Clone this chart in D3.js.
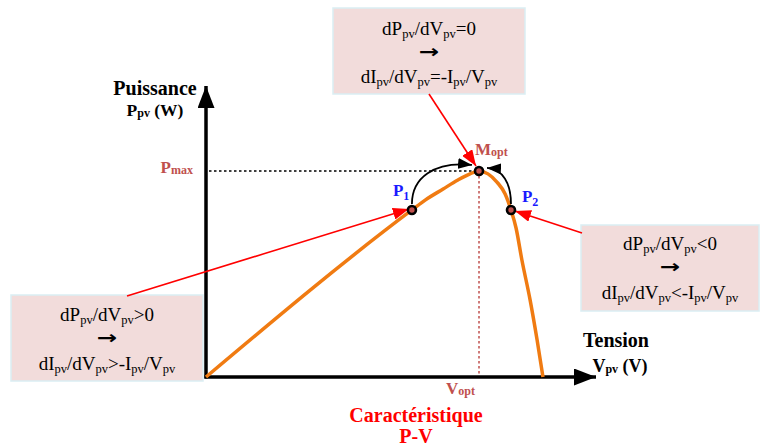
<!DOCTYPE html>
<html>
<head>
<meta charset="utf-8">
<script src="https://cdn.jsdelivr.net/npm/d3@7"></script>
<style>
  html, body { margin: 0; padding: 0; background: #ffffff; }
  svg { display: block; font-family: "Liberation Serif", "Times New Roman", serif; }
</style>
</head>
<body>
<svg id="chart" width="760" height="448"></svg>
<script>
// P-V characteristic of a PV module (arbitrary units)
const voltage = [0, 52.8, 56.2, 60.8, 64.6, 67.7, 70.0, 72.3, 74.6, 76.7, 78.2, 79.5, 81.0, 83.1, 84.9, 86.4];
const power   = [0, 57.4, 60.8, 64.6, 67.7, 69.8, 70.8, 69.8, 67.0, 62.9, 57.4, 51.2, 40.2, 26.5, 12.7, 0];

// Operating points on the curve
const pointNames = ["P1", "Mopt", "P2"];
const pointV = [52.8, 70.0, 78.2];
const pointP = [57.4, 70.8, 57.4];

// Condition boxes (text with _{...} marking subscripts)
const condTop   = ["dP_{pv}/dV_{pv}=0", "→", "dI_{pv}/dV_{pv}=-I_{pv}/V_{pv}"];
const condLeft  = ["dP_{pv}/dV_{pv}>0", "→", "dI_{pv}/dV_{pv}>-I_{pv}/V_{pv}"];
const condRight = ["dP_{pv}/dV_{pv}<0", "→", "dI_{pv}/dV_{pv}<-I_{pv}/V_{pv}"];

const svg = d3.select("#chart");

const x = d3.scaleLinear().domain([0, 100]).range([206, 596]);
const y = d3.scaleLinear().domain([0, 100]).range([377, 86]);

const ORANGE = "#f07b12";
const BROWN = "#c0504d";
const RED = "#ff0000";
const BLUE = "#1a1aff";

// Arrowhead markers
const defs = svg.append("defs");
function marker(id, color, len, wid) {
  defs.append("marker")
    .attr("id", id)
    .attr("markerUnits", "userSpaceOnUse")
    .attr("viewBox", `0 0 ${len} ${wid}`)
    .attr("refX", len).attr("refY", wid / 2)
    .attr("markerWidth", len).attr("markerHeight", wid)
    .attr("orient", "auto")
    .append("path")
    .attr("d", `M0,0 L${len},${wid / 2} L0,${wid} Z`)
    .attr("fill", color);
}
marker("axisHead", "#000", 22, 17);
marker("redHead", RED, 16, 12);
marker("blackHead", "#000", 14, 11);

// Parse "_{...}" subscripts into tspans
function richText(sel, str, size, subSize, shift) {
  const parts = [];
  const re = /_\{([^}]*)\}/g;
  let last = 0, m;
  while ((m = re.exec(str)) !== null) {
    if (m.index > last) parts.push([str.slice(last, m.index), false]);
    parts.push([m[1], true]);
    last = re.lastIndex;
  }
  if (last < str.length) parts.push([str.slice(last), false]);
  let down = false;
  parts.forEach(([t, sub]) => {
    const ts = sel.append("tspan").text(t).attr("font-size", sub ? subSize : size);
    if (sub && !down) { ts.attr("dy", shift); down = true; }
    else if (!sub && down) { ts.attr("dy", -shift); down = false; }
  });
}

// Condition boxes
function condBox(lines, x0, y0, w, h, baselines) {
  const g = svg.append("g");
  g.append("rect")
    .attr("x", x0).attr("y", y0).attr("width", w).attr("height", h)
    .attr("fill", "#f2dcdb").attr("stroke", "#daeef3").attr("stroke-width", 1.5);
  lines.forEach((ln, i) => {
    if (ln === "→") {
      // implication arrow, stretched horizontally
      g.append("text")
        .attr("transform", `translate(${x0 + w / 2},${baselines[i]}) scale(1.35,1)`)
        .attr("text-anchor", "middle").attr("fill", "#000")
        .attr("font-family", "DejaVu Sans").attr("font-weight", "bold")
        .attr("font-size", 18).text(ln);
    } else {
      const t = g.append("text")
        .attr("x", x0 + w / 2).attr("y", baselines[i])
        .attr("text-anchor", "middle").attr("fill", "#000");
      richText(t, ln, 19, 12.5, 3);
    }
  });
}
condBox(condTop, 333, 8, 192, 86, [35, 58, 83]);
condBox(condLeft, 11, 295, 192, 86, [321, 344, 370]);
condBox(condRight, 581, 225, 178, 86, [250, 273, 299]);

// Guide lines at the maximum power point
const iMax = 1;
svg.append("line")
  .attr("x1", x(0) + 3).attr("x2", x(pointV[iMax]))
  .attr("y1", y(pointP[iMax])).attr("y2", y(pointP[iMax]))
  .attr("stroke", "#000").attr("stroke-width", 1.5).attr("stroke-dasharray", "2.5,2.5");
svg.append("line")
  .attr("x1", x(pointV[iMax])).attr("x2", x(pointV[iMax]))
  .attr("y1", y(pointP[iMax])).attr("y2", y(0))
  .attr("stroke", BROWN).attr("stroke-width", 1.5).attr("stroke-dasharray", "2.5,2.5");

// Axes
svg.append("line")
  .attr("x1", x(0)).attr("y1", y(0) + 1.5).attr("x2", x(0)).attr("y2", y(100))
  .attr("stroke", "#000").attr("stroke-width", 3.5).attr("marker-end", "url(#axisHead)");
svg.append("line")
  .attr("x1", x(0) - 1.5).attr("y1", y(0)).attr("x2", x(100)).attr("y2", y(0))
  .attr("stroke", "#000").attr("stroke-width", 3.5).attr("marker-end", "url(#axisHead)");

// P-V curve
const curve = d3.line().x((d, i) => x(voltage[i])).y((d, i) => y(power[i])).curve(d3.curveMonotoneX);
svg.append("path")
  .attr("d", curve(voltage))
  .attr("fill", "none").attr("stroke", ORANGE).attr("stroke-width", 3.5)
  .attr("stroke-linejoin", "round");

// Red arrows from condition boxes to the points
const px = pointV.map(v => x(v));
const py = pointP.map(p => y(p));
const redArrows = [
  [127, 296, px[0] - 3, py[0] - 1],
  [429, 94, px[1] - 3, py[1] - 5],
  [582, 233, px[2] + 4, py[2] + 1]
];
redArrows.forEach(([x1, y1, x2, y2]) => {
  svg.append("line")
    .attr("x1", x1).attr("y1", y1).attr("x2", x2).attr("y2", y2)
    .attr("stroke", RED).attr("stroke-width", 1.6).attr("marker-end", "url(#redHead)");
});

// Black arcs pointing towards the maximum
svg.append("path")
  .attr("d", `M${px[0]},${py[0] - 6} C${px[0]},${py[0] - 32} ${px[0] + 22},${py[1] - 10} ${px[1] - 7},${py[1] - 6}`)
  .attr("fill", "none").attr("stroke", "#000").attr("stroke-width", 1.8).attr("marker-end", "url(#blackHead)");
svg.append("path")
  .attr("d", `M${px[2]},${py[2] - 6} C${px[2]},${py[2] - 26} ${px[2] - 8},${py[1] - 2} ${px[1] + 8},${py[1] - 3}`)
  .attr("fill", "none").attr("stroke", "#000").attr("stroke-width", 1.8).attr("marker-end", "url(#blackHead)");

// Operating point markers
svg.selectAll("circle.pt").data(pointNames).join("circle")
  .attr("class", "pt")
  .attr("cx", (d, i) => px[i]).attr("cy", (d, i) => py[i]).attr("r", 4)
  .attr("fill", BROWN).attr("stroke", "#000").attr("stroke-width", 2.6);

// Labels with subscripts
function label(str, xx, yy, color, size, subSize, anchor, shift) {
  const t = svg.append("text").attr("x", xx).attr("y", yy)
    .attr("fill", color).attr("font-weight", "bold").attr("text-anchor", anchor || "start");
  richText(t, str, size, subSize, shift === undefined ? 3 : shift);
  return t;
}
label("P_{1}", px[0] - 19, py[0] - 14, BLUE, 17, 12, "start", 4);
label("P_{2}", px[2] + 11, py[2] - 8, BLUE, 17, 12, "start", 4);
label("M_{opt}", px[1] - 4, py[1] - 16, BROWN, 17, 12, "start", 1);
label("P_{max}", 193, py[1] + 2, BROWN, 17, 12, "end", 1);
label("V_{opt}", px[1] - 33, 394, BROWN, 17, 12, "start", 1);

// Axis titles
svg.append("text").attr("x", 155).attr("y", 95).attr("text-anchor", "middle")
  .attr("font-weight", "bold").attr("font-size", 20).attr("fill", "#000").text("Puissance");
label("P_{pv} (W)", 155, 116, "#000", 17.5, 12, "middle", 1);
svg.append("text").attr("x", 616).attr("y", 347).attr("text-anchor", "middle")
  .attr("font-weight", "bold").attr("font-size", 20).attr("fill", "#000").text("Tension");
label("V_{pv} (V)", 620, 372, "#000", 18, 12, "middle", 1);

// Chart title
svg.append("text").attr("x", 416).attr("y", 422).attr("text-anchor", "middle")
  .attr("font-weight", "bold").attr("font-size", 20).attr("fill", RED).text("Caractéristique");
svg.append("text").attr("x", 416).attr("y", 443).attr("text-anchor", "middle")
  .attr("font-weight", "bold").attr("font-size", 20).attr("fill", RED).text("P-V");
</script>
</body>
</html>
